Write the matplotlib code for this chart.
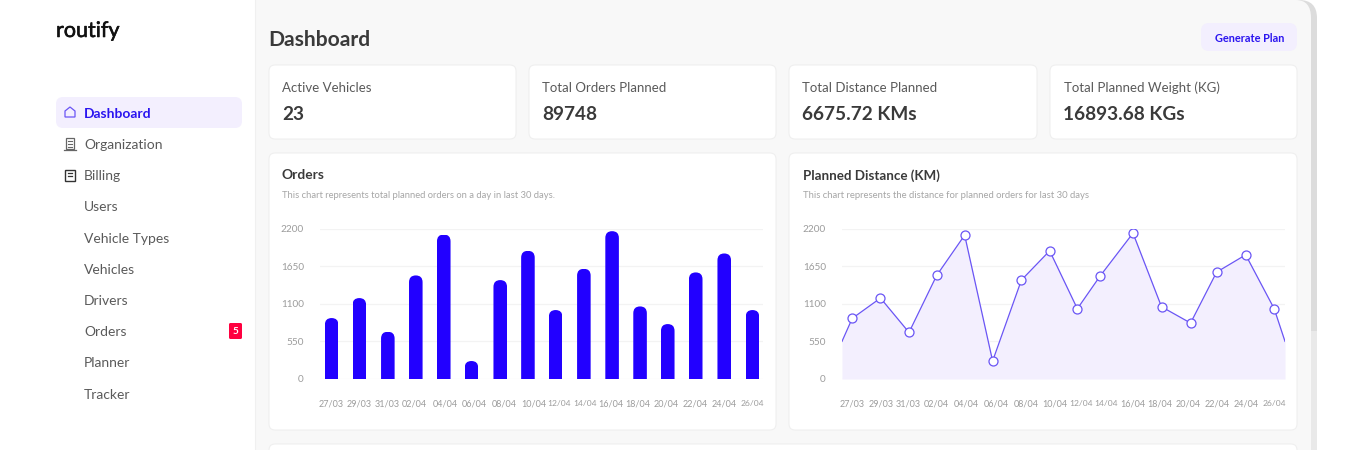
import matplotlib
matplotlib.use('Agg')
import matplotlib.pyplot as plt
import matplotlib.patheffects as pe
from matplotlib.patches import FancyBboxPatch, Rectangle, Polygon, PathPatch
from matplotlib.path import Path
from matplotlib.transforms import IdentityTransform

plt.rcParams['font.family'] = ['Lato', 'DejaVu Sans']

W, H = 1356, 450

# data
dates = ['27/03', '29/03', '31/03', '02/04', '04/04', '06/04', '08/04', '10/04',
         '12/04', '14/04', '16/04', '18/04', '20/04', '22/04', '24/04', '26/04']
y_ticks = [0, 550, 1100, 1650, 2200]
orders = [891, 1183, 691, 1514, 2112, 263, 1446, 1874, 1008, 1611, 2161, 1061, 803, 1558, 1835, 1008]
distance = [550, 886, 1183, 681, 1514, 2103, 263, 1446, 1874, 1027, 1504, 2132, 1056, 818, 1562, 1815, 1027, 550]
# positions of the marks along the 0-16 slot axis
orders_x = [.42, 1.42, 2.45, 3.46, 4.47, 5.47, 6.51, 7.51, 8.51, 9.53, 10.55, 11.56, 12.56, 13.57, 14.6, 15.62]
distance_x = [0, .37, 1.39, 2.42, 3.42, 4.43, 5.44, 6.48, 7.5, 8.5, 9.32, 10.51, 11.54, 12.59, 13.53, 14.58, 15.61, 16]
orders_ticks = [.42, 1.43, 2.41, 3.42, 4.51, 5.59, 6.66, 7.71, 8.65, 9.57, 10.52, 11.48, 12.51, 13.55, 14.58, 15.6]
distance_ticks = [.38, 1.41, 2.38, 3.4, 4.48, 5.56, 6.64, 7.7, 8.62, 9.54, 10.5, 11.46, 12.49, 13.56, 14.58, 15.6]
small_dates = ['12/04', '14/04', '26/04']

kpi_names = ['Active Vehicles', 'Total Orders Planned', 'Total Distance Planned', 'Total Planned Weight (KG)']
kpi_values = ['23', '89748', '6675.72 KMs', '16893.68 KGs']
nav_items = ['Dashboard', 'Organization', 'Billing', 'Users', 'Vehicle Types', 'Vehicles',
             'Drivers', 'Orders', 'Planner', 'Tracker']

BLUE = '#2200ff'
ACCENT = '#2a14f0'
LILAC = '#f3effe'
LINE = '#6a55f5'
DARK = '#3a3a3a'
NAV = '#5a5a5a'
SUB = '#a6a6a6'
TICK = '#9c9c9c'


def px(size):
    return size * 0.72


def card(ax, x0, y0, x1, y1, r=6, fc='white', ec='#efefef', lw=0.8, z=2):
    ax.add_patch(FancyBboxPatch((x0 + r, y0 + r), x1 - x0 - 2 * r, y1 - y0 - 2 * r,
                                boxstyle=f'round,pad={r},rounding_size={r}',
                                fc=fc, ec=ec, lw=lw, zorder=z))


fig = plt.figure(figsize=(W / 100, H / 100), dpi=100, facecolor='white')

# page chrome, in pixels
ui = fig.add_axes([0, 0, 1, 1])
ui.set_xlim(0, W)
ui.set_ylim(H, 0)
ui.axis('off')

# main panel with curved top right corner
verts = [(255, 0), (1299, 0), (1317, 0), (1317, 18), (1317, 450), (255, 450), (255, 0)]
codes = [Path.MOVETO, Path.LINETO, Path.CURVE3, Path.CURVE3, Path.LINETO, Path.LINETO, Path.CLOSEPOLY]
ui.add_patch(PathPatch(Path(verts, codes), fc='#dcdcdc', ec='none', zorder=0))
ui.add_patch(Rectangle((1311, 331), 6, 119, fc='#e9e9e9', ec='none', zorder=0.5))
verts = [(255, 0), (1296, 0), (1311, 0), (1311, 18), (1311, 450), (255, 450), (255, 0)]
ui.add_patch(PathPatch(Path(verts, codes), fc='#f8f8f8', ec='none', zorder=1))
ui.plot([255, 255], [0, 450], color='#f0f0f0', lw=0.8, zorder=1.5)

logo = ui.text(56, 31, 'routify', fontsize=px(21.5), color='#111111', va='center', ha='left')
logo.set_path_effects([pe.withStroke(linewidth=0.4, foreground='#111111')])

# sidebar
card(ui, 56, 97, 242, 128, r=7, fc=LILAC, ec='none', lw=0)
nav_y = [113, 144, 175, 206, 238, 269, 300, 331, 362, 394]
for name, y in zip(nav_items, nav_y):
    active = name == 'Dashboard'
    ui.text(84, y + 0.8, name, fontsize=px(13.9), color=ACCENT if active else NAV, va='center',
            weight='bold' if active else 'normal', zorder=3)

ui.add_patch(Polygon([(65, 117), (65, 111), (70, 107), (75, 111), (75, 117)], closed=True,
                     fc='none', ec='#6a55f5', lw=0.9, zorder=3))
ui.add_patch(Rectangle((66, 138), 8, 11, fc='none', ec='#666666', lw=0.9, zorder=3))
ui.plot([64, 76], [149.5, 149.5], color='#666666', lw=0.9, zorder=3)
for yy in (141, 144, 146.5):
    ui.plot([68, 72], [yy, yy], color='#666666', lw=0.8, zorder=3)
ui.add_patch(Rectangle((65, 169.5), 10, 11, fc='none', ec='#333333', lw=1, zorder=3))
ui.plot([68, 72], [173, 173], color='#333333', lw=0.9, zorder=3)
ui.plot([68, 72], [176, 176], color='#333333', lw=0.9, zorder=3)

card(ui, 229, 323, 242, 339, r=1.5, fc='#ff0040', ec='none', lw=0)
ui.text(235.5, 331, '5', fontsize=px(10), color='white', ha='center', va='center', weight='bold', zorder=3)

# header
ui.text(268.5, 40.3, 'Dashboard', fontsize=px(21), color=DARK, va='center', weight='bold')
card(ui, 1201, 23, 1297, 51, r=8, fc=LILAC, ec='none', lw=0)
ui.text(1249.5, 38, 'Generate Plan', fontsize=px(11), color=ACCENT, ha='center', va='center',
        weight='bold', zorder=3)

# kpi cards
kpi_left = [269, 529, 789, 1050]
kpi_right = [516, 776, 1037, 1297]
for x0, x1, name, value in zip(kpi_left, kpi_right, kpi_names, kpi_values):
    card(ui, x0, 65, x1, 139)
    ui.text(x0 + 13.5, 87.6, name, fontsize=px(13.2), color=NAV, va='center', zorder=3)
    ui.text(x0 + 13, 114.6, value, fontsize=px(19), color=DARK, va='center', weight='bold', zorder=3)

# chart cards
card(ui, 269, 153, 776, 430)
card(ui, 789, 153, 1297, 430)
card(ui, 269, 444, 1297, 470)
ui.text(282, 175.2, 'Orders', fontsize=px(13.7), color=DARK, va='center', weight='bold', zorder=3)
ui.text(803, 175.2, 'Planned Distance (KM)', fontsize=px(13.4), color=DARK, va='center', weight='bold', zorder=3)
ui.text(282, 195.8, 'This chart represents total planned orders on a day in last 30 days.',
        fontsize=px(9.42), color=SUB, va='center', zorder=3)
ui.text(803, 195.8, 'This chart represents the distance for planned orders for last 30 days',
        fontsize=px(9.45), color=SUB, va='center', zorder=3)


def chart_axes(x0, x1, ticks):
    ax = fig.add_axes([x0 / W, 1 - 379 / H, (x1 - x0) / W, (379 - 228.5) / H])
    ax.patch.set_visible(False)
    ax.set_xlim(0, 16)
    ax.set_ylim(0, 2200)
    ax.set_yticks(y_ticks)
    ax.set_yticklabels([str(v) for v in y_ticks])
    ax.set_xticks(ticks)
    ax.set_xticklabels(dates)
    ax.tick_params(axis='y', length=0, pad=px(16), labelsize=px(10), labelcolor=TICK)
    ax.tick_params(axis='x', length=0, pad=px(20.5), labelsize=px(9), labelcolor=TICK)
    for lab in ax.get_xticklabels():
        if lab.get_text() in small_dates:
            lab.set_fontsize(px(8.5))
    ax.grid(axis='y', color='#f3f3f3', lw=0.9)
    ax.set_axisbelow(True)
    for s in ax.spines.values():
        s.set_visible(False)
    return ax


# orders bars with rounded tops
ax1 = chart_axes(320, 763, orders_ticks)
bars = ax1.bar(orders_x, orders, width=0.49, color=BLUE, zorder=2)
for b in bars:
    (bx0, by0), (bx1, by1) = ax1.transData.transform([(b.get_x(), 0), (b.get_x() + b.get_width(), b.get_height())])
    r = (bx1 - bx0) / 2
    clip = FancyBboxPatch((bx0 + r, by0 - 20 + r), bx1 - bx0 - 2 * r, by1 - by0 + 20 - 2 * r,
                          boxstyle=f'round,pad={r},rounding_size={r}', transform=IdentityTransform())
    b.set_clip_path(clip)

# distance area
ax2 = chart_axes(842, 1285, distance_ticks)
ax2.fill_between(distance_x, distance, 0, color=LILAC, lw=0, zorder=2)
ax2.plot(distance_x, distance, color=LINE, lw=0.9, zorder=3)
ax2.plot(distance_x[1:-1], distance[1:-1], 'o', ms=px(9), mfc='white', mec=LINE, mew=0.9, zorder=4)

fig.savefig('out.png', dpi=100)
